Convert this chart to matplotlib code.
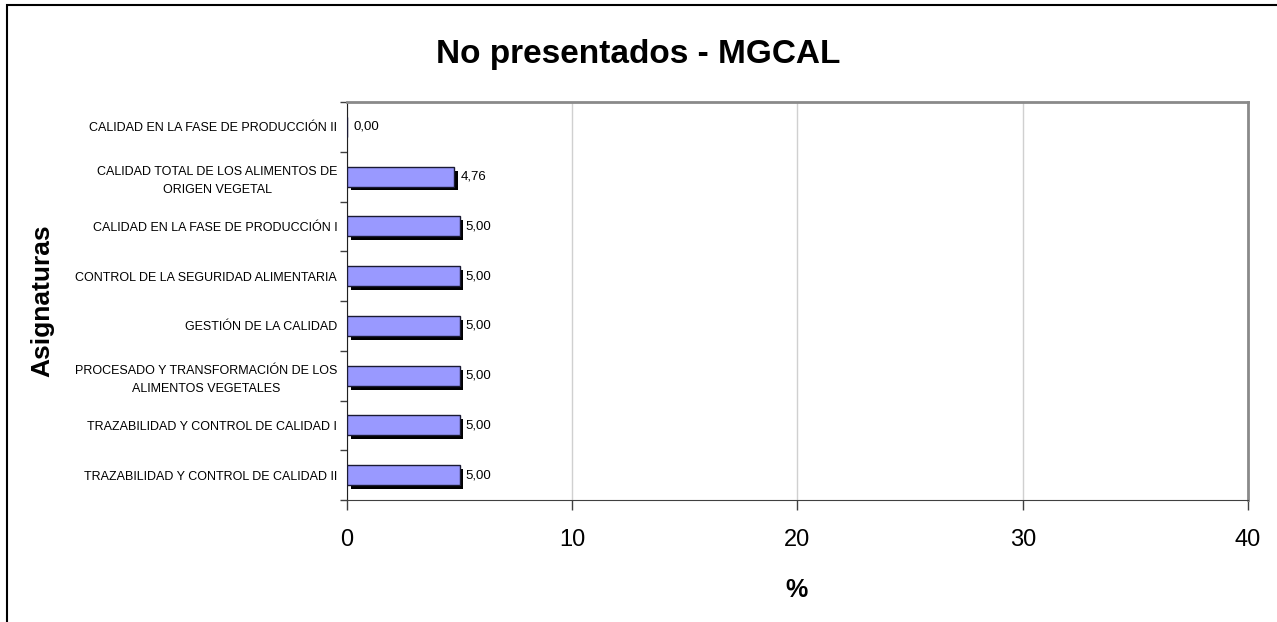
import matplotlib.pyplot as plt
import matplotlib.patheffects as pe
from matplotlib.patches import Rectangle
import numpy as np

plt.rcParams["font.family"] = ["Liberation Sans", "DejaVu Sans"]

# bottom to top, as drawn
asignaturas = [
    "TRAZABILIDAD Y CONTROL DE CALIDAD II",
    "TRAZABILIDAD Y CONTROL DE CALIDAD I",
    "PROCESADO Y TRANSFORMACIÓN DE LOS\nALIMENTOS VEGETALES",
    "GESTIÓN DE LA CALIDAD",
    "CONTROL DE LA SEGURIDAD ALIMENTARIA",
    "CALIDAD EN LA FASE DE PRODUCCIÓN I",
    "CALIDAD TOTAL DE LOS ALIMENTOS DE\nORIGEN VEGETAL",
    "CALIDAD EN LA FASE DE PRODUCCIÓN II",
]
no_presentados = [5.00, 5.00, 5.00, 5.00, 5.00, 5.00, 4.76, 0.00]
x_ticks = [0, 10, 20, 30, 40]

fig = plt.figure(figsize=(12.77, 6.22), dpi=100)
ax = fig.add_axes([0.2717, 0.196, 0.7056, 0.64])

# outer chart frame (cut off at right and bottom)
fig.patches.append(Rectangle((7 / 1277, -0.05), 1.2, 1 - 5 / 622 + 0.05,
                             transform=fig.transFigure, fill=False,
                             edgecolor="black", linewidth=1.5, zorder=0))

y = np.arange(len(asignaturas))
bars = ax.barh(y, no_presentados, height=0.4, color="#9999FF",
               edgecolor="#1a1a33", linewidth=1.0, zorder=3)
for b in bars:
    b.set_path_effects([pe.SimplePatchShadow(offset=(2.8, -2.8), shadow_rgbFace="black", alpha=1.0),
                        pe.Normal()])

for yi, v in zip(y, no_presentados):
    ax.annotate(f"{v:.2f}".replace(".", ","), (v, yi), xytext=(4.5, 0),
                textcoords="offset points", ha="left", va="center", fontsize=9.5)

ax.set_xlim(0, 40)
ax.set_ylim(-0.5, len(asignaturas) - 0.5)
ax.set_xticks(x_ticks)
ax.set_xticklabels([str(t) for t in x_ticks], fontsize=17)
ax.tick_params(axis="x", length=7, width=1, pad=14, color="#404040")

ax.set_yticks(y)
ax.set_yticklabels(asignaturas, fontsize=9, multialignment="center", linespacing=1.6)
ax.set_yticks(np.arange(-0.5, len(asignaturas)), minor=True)
ax.tick_params(axis="y", which="major", length=0, pad=7)
ax.tick_params(axis="y", which="minor", length=5, width=1, color="#404040")

ax.grid(axis="x", color="#d0d0d0", linewidth=1, zorder=0)
ax.set_axisbelow(True)

ax.spines["left"].set_color("#202020")
ax.spines["bottom"].set_color("#404040")
ax.spines["top"].set_color("#8a8a8a")
ax.spines["right"].set_color("#8a8a8a")
ax.spines["top"].set_linewidth(2)
ax.spines["right"].set_linewidth(2)

fig.text(0.5, 1 - 55 / 622, "No presentados - MGCAL", ha="center", va="center",
         fontsize=24, fontweight="bold")
fig.text(42 / 1277, 1 - 301 / 622, "Asignaturas", ha="center", va="center",
         rotation=90, fontsize=19, fontweight="bold")
fig.text(797 / 1277, 1 - 590 / 622, "%", ha="center", va="center",
         fontsize=18, fontweight="bold")

fig.savefig("out.png", dpi=100)
